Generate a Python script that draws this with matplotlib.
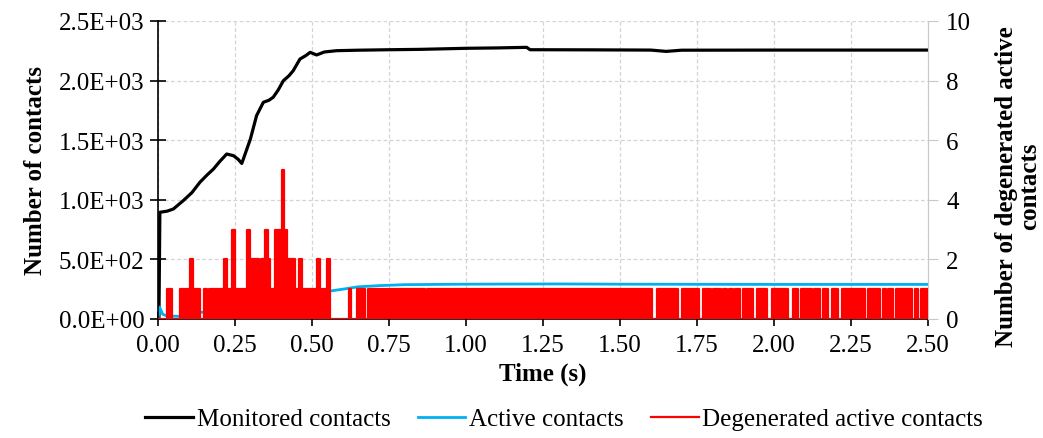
import numpy as np
import matplotlib.pyplot as plt
from matplotlib.ticker import FuncFormatter, MultipleLocator

plt.rcParams['font.family'] = ['Liberation Serif', 'DejaVu Serif']

# monitored contacts (left axis)
mon_t = [0.000, 0.003, 0.006, 0.030, 0.050, 0.082, 0.110, 0.136, 0.160, 0.180, 0.200, 0.223,
         0.245, 0.260, 0.272, 0.285, 0.300, 0.320, 0.342, 0.360, 0.374, 0.390, 0.407, 0.425,
         0.439, 0.461, 0.480, 0.494, 0.515, 0.540, 0.580, 0.650, 0.753, 0.850, 1.002, 1.100,
         1.197, 1.208, 1.400, 1.600, 1.650, 1.700, 2.000, 2.500]
mon_v = [0, 0, 895, 905, 923, 993, 1060, 1147, 1210, 1258, 1320, 1384,
         1370, 1340, 1305, 1400, 1510, 1706, 1818, 1835, 1860, 1920, 1999, 2040,
         2083, 2181, 2210, 2237, 2215, 2240, 2251, 2255, 2259, 2262, 2271, 2274,
         2279, 2259, 2258, 2256, 2245, 2255, 2256, 2256]

# active contacts (left axis)
act_t = [0.000, 0.005, 0.015, 0.030, 0.080, 0.120, 0.135, 0.160, 0.300, 0.450, 0.520,
         0.560, 0.600, 0.650, 0.720, 0.800, 0.900, 1.000, 1.300, 1.500, 2.000, 2.500]
act_v = [0, 100, 40, 25, 22, 25, 55, 60, 150, 210, 225,
         235, 250, 270, 280, 288, 290, 292, 294, 292, 290, 290]

# degenerated active contacts (right axis), step values
red_t = [0.000, 0.028, 0.044, 0.072, 0.103, 0.112, 0.136, 0.149, 0.160, 0.166, 0.215, 0.225,
         0.239, 0.250, 0.288, 0.299, 0.328, 0.333, 0.348, 0.357, 0.362, 0.380, 0.402, 0.410,
         0.418, 0.446, 0.457, 0.467, 0.515, 0.526, 0.531, 0.548, 0.558, 0.621, 0.627, 0.645,
         0.672, 0.683, 0.868, 0.872, 0.955, 0.959, 1.603, 1.621, 1.689, 1.700, 1.757, 1.770,
         1.794, 1.803, 1.827, 1.833, 1.846, 1.855, 1.868, 1.873, 1.890, 1.900, 1.931, 1.944,
         1.976, 1.992, 2.047, 2.063, 2.079, 2.087, 2.122, 2.130, 2.149, 2.158, 2.176, 2.187,
         2.209, 2.220, 2.295, 2.306, 2.344, 2.353, 2.364, 2.371, 2.387, 2.396, 2.447, 2.458,
         2.469, 2.476, 2.500]
red_v = [0, 1, 0, 1, 2, 1, 0, 1, 0, 1, 2, 1,
         3, 1, 3, 2, 1, 2, 3, 2, 1, 3, 5, 3,
         2, 1, 2, 1, 2, 0, 1, 2, 0, 1, 0, 1,
         0, 1, 0, 1, 0, 1, 0, 1, 0, 1, 0, 1,
         0, 1, 0, 1, 0, 1, 0, 1, 0, 1, 0, 1,
         0, 1, 0, 1, 0, 1, 0, 1, 0, 1, 0, 1,
         0, 1, 0, 1, 0, 1, 0, 1, 0, 1, 0, 1,
         0, 1, 0]

fig = plt.figure(figsize=(10.43, 4.39), dpi=100)
ax1 = fig.add_axes([0.1515, 0.2711, 0.7382, 0.6788])
ax2 = fig.add_axes([0.1515, 0.2711, 0.7382, 0.6788], sharex=ax1)
ax2.patch.set_visible(False)

grid_kw = dict(color='#d4d4d4', linestyle=(0, (3, 2)), linewidth=0.9)
ax1.grid(True, **grid_kw)

l1, = ax1.plot(mon_t, mon_v, color='black', linewidth=2.3, label='Monitored contacts')
l2, = ax1.plot(act_t, act_v, color='#00b0f0', linewidth=2.0, label='Active contacts')

ax2.fill_between(red_t, red_v, step='post', color='#ff0000', linewidth=0, zorder=2)
l3, = ax2.step(red_t, red_v, where='post', color='#ff0000', linewidth=1.6, zorder=3,
               label='Degenerated active contacts')

ax1.set_xlim(0, 2.5)
ax1.set_ylim(0, 2500)
ax2.set_ylim(0, 10)
ax1.xaxis.set_major_locator(MultipleLocator(0.25))
ax1.xaxis.set_major_formatter(FuncFormatter(lambda v, p: f"{v:.2f}"))
ax1.yaxis.set_major_locator(MultipleLocator(500))
ax1.yaxis.set_major_formatter(FuncFormatter(lambda v, p: f"{v:.1E}"))
ax2.yaxis.set_major_locator(MultipleLocator(2))

for sp in ['top', 'right']:
    ax1.spines[sp].set_visible(False)
ax2.spines['top'].set_visible(False)
ax2.spines['left'].set_visible(False)
ax2.spines['bottom'].set_visible(False)
ax2.spines['right'].set_color('#c8c8c8')
ax1.spines['left'].set_linewidth(1.2)
ax1.spines['bottom'].set_linewidth(1.2)

ax2.yaxis.tick_right()
ax2.tick_params(axis='x', bottom=False, labelbottom=False)
ax2.tick_params(axis='y', direction='out', length=7, color='#c8c8c8', labelsize=18, pad=6)
ax1.tick_params(axis='y', direction='inout', length=12, width=1.2, labelsize=18, pad=4,
                right=False)
ax1.tick_params(axis='x', direction='inout', length=10, width=1.2, labelsize=18, pad=6)

ax1.set_xlabel('Time (s)', fontsize=18, fontweight='bold', labelpad=4)
ax1.set_ylabel('Number of contacts', fontsize=18, fontweight='bold', labelpad=8)
fig.text(0.976, 0.576, 'Number of degenerated active\ncontacts', rotation=90,
         ha='center', va='center', multialignment='center', fontsize=18,
         fontweight='bold', linespacing=1.0)

fig.legend(handles=[l1, l2, l3], loc='center', bbox_to_anchor=(0.541, 0.043), ncol=3,
           frameon=False, fontsize=18, handlelength=1.9, handletextpad=0.15,
           columnspacing=1.1, borderaxespad=0)

fig.savefig('out.png', dpi=100)
